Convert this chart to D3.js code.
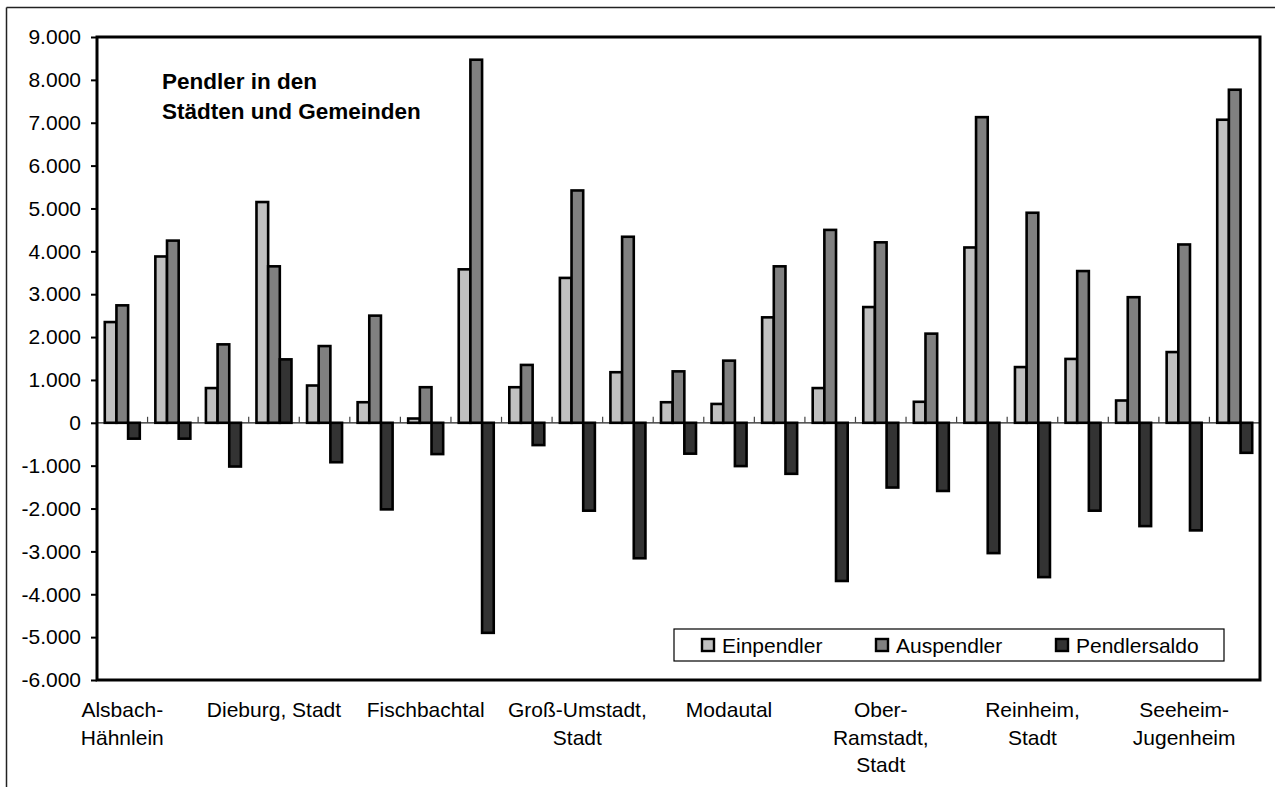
<!DOCTYPE html>
<html>
<head>
<meta charset="utf-8">
<script src="https://cdn.jsdelivr.net/npm/d3@7"></script>
<style>
  body { margin: 0; background: #fff; }
  svg { display: block; font-family: Arial, "Liberation Sans", sans-serif; }
</style>
</head>
<body>
<svg id="chart" width="1275" height="787"></svg>
<script>
// Pendler je Gemeinde (Landkreis Darmstadt-Dieburg)
const categories = [
  "Alsbach-\nHähnlein", "Babenhausen,\nStadt", "Bickenbach", "Dieburg, Stadt", "Eppertshausen",
  "Erzhausen", "Fischbachtal", "Griesheim,\nStadt", "Groß-Bieberau,\nStadt", "Groß-Umstadt,\nStadt",
  "Groß-Zimmern", "Messel", "Modautal", "Mühltal", "Münster",
  "Ober-\nRamstadt,\nStadt", "Otzberg", "Pfungstadt,\nStadt", "Reinheim,\nStadt", "Roßdorf",
  "Schaafheim", "Seeheim-\nJugenheim", "Weiterstadt,\nStadt"
];
const einpendler = [2350, 3880, 810, 5150, 870, 480, 100, 3580, 830, 3380, 1180, 480, 440, 2460, 810, 2700, 490, 4090, 1300, 1490, 520, 1650, 7070];
const auspendler = [2740, 4250, 1830, 3650, 1790, 2500, 830, 8470, 1350, 5420, 4340, 1200, 1450, 3650, 4500, 4210, 2080, 7130, 4900, 3540, 2930, 4160, 7770];
const pendlersaldo = [-370, -370, -1020, 1480, -920, -2020, -730, -4900, -520, -2050, -3160, -720, -1010, -1190, -3690, -1510, -1590, -3040, -3600, -2050, -2410, -2510, -700];
const seriesNames = ["Einpendler", "Auspendler", "Pendlersaldo"];
const yTicks = [-6000, -5000, -4000, -3000, -2000, -1000, 0, 1000, 2000, 3000, 4000, 5000, 6000, 7000, 8000, 9000];
const titleLines = ["Pendler in den", "Städten und Gemeinden"];

const colors = ["#c0c0c0", "#808080", "#333333"];
const seriesData = [einpendler, auspendler, pendlersaldo];

let svg = d3.select("#chart"),
    margin = {top: 37, right: 15, bottom: 107, left: 97},
    width = 1275 - margin.left - margin.right,
    height = 787 - margin.top - margin.bottom;

const de = d3.formatLocale({decimal: ",", thousands: ".", grouping: [3], currency: ["", " €"], minus: "-"});
const fmt = de.format(",");

// outer chart frame (only top and left edge visible)
svg.append("line").attr("x1", 6.5).attr("x2", 1275).attr("y1", 7.5).attr("y2", 7.5)
  .attr("stroke", "#222").attr("stroke-width", 1.5);
svg.append("line").attr("x1", 6.5).attr("x2", 6.5).attr("y1", 7.5).attr("y2", 787)
  .attr("stroke", "#222").attr("stroke-width", 1.5);

let g = svg.append("g").attr("transform", "translate(" + margin.left + "," + margin.top + ")");

let x0 = d3.scaleBand().domain(d3.range(categories.length)).range([0, width]).padding(0);
let x1 = d3.scaleBand().domain(seriesNames).range([0, x0.bandwidth()]).paddingInner(0).paddingOuter(0.667);
let y = d3.scaleLinear().domain([-6000, 9000]).range([height, 0]);

// y axis
let yAxis = d3.axisLeft(y).tickValues(yTicks).tickFormat(fmt).tickSize(6).tickPadding(10);
let ya = g.append("g").call(yAxis);
ya.select(".domain").remove();
ya.selectAll(".tick line").attr("stroke", "#000").attr("stroke-width", 2);
ya.selectAll("text").attr("font-size", 21).attr("fill", "#000")
  .attr("font-family", "Arial, 'Liberation Sans', sans-serif");

// zero line with category ticks
g.append("line").attr("x1", 0).attr("x2", width).attr("y1", y(0)).attr("y2", y(0))
  .attr("stroke", "#222").attr("stroke-width", 1.2);
g.selectAll(".ctick").data(d3.range(1, categories.length)).enter().append("line")
  .attr("class", "ctick")
  .attr("x1", d => x0(d)).attr("x2", d => x0(d))
  .attr("y1", y(0)).attr("y2", y(0) - 6)
  .attr("stroke", "#444").attr("stroke-width", 1.2);

// bars
seriesNames.forEach((s, si) => {
  g.selectAll(".bar" + si).data(seriesData[si]).enter().append("rect")
    .attr("class", "bar" + si)
    .attr("x", (d, i) => x0(i) + x1(s))
    .attr("width", x1.bandwidth())
    .attr("y", d => y(Math.max(0, d)))
    .attr("height", d => Math.abs(y(d) - y(0)))
    .attr("fill", colors[si])
    .attr("stroke", "#000")
    .attr("stroke-width", 2.6);
});

// plot border
g.append("rect").attr("x", 0).attr("y", 0).attr("width", width).attr("height", height)
  .attr("fill", "none").attr("stroke", "#000").attr("stroke-width", 3);

// category labels (every third)
let xl = g.append("g").attr("transform", "translate(0," + height + ")");
categories.forEach((c, i) => {
  if (i % 3 !== 0) return;
  let t = xl.append("text")
    .attr("x", x0(i) + x0.bandwidth() / 2)
    .attr("y", 37)
    .attr("text-anchor", "middle")
    .attr("font-size", 21)
    .attr("fill", "#000");
  c.split("\n").forEach((line, li) => {
    t.append("tspan").attr("x", x0(i) + x0.bandwidth() / 2).attr("dy", li === 0 ? 0 : 27.5).text(line);
  });
});

// title
let title = g.append("text").attr("x", 65).attr("y", 52)
  .attr("font-size", 22.5).attr("font-weight", "bold").attr("fill", "#000");
titleLines.forEach((l, i) => {
  title.append("tspan").attr("x", 65).attr("dy", i === 0 ? 0 : 30).text(l);
});

// legend
let lg = svg.append("g").attr("transform", "translate(674,629)");
lg.append("rect").attr("x", 0).attr("y", 0).attr("width", 550).attr("height", 32)
  .attr("fill", "#fff").attr("stroke", "#000").attr("stroke-width", 1.2);
const legendX = [28, 202, 382];
seriesNames.forEach((s, i) => {
  lg.append("rect").attr("x", legendX[i]).attr("y", 10).attr("width", 12).attr("height", 12)
    .attr("fill", colors[i]).attr("stroke", "#000").attr("stroke-width", 2.4);
  lg.append("text").attr("x", legendX[i] + 20).attr("y", 23.5)
    .attr("font-size", 21).attr("fill", "#000").text(s);
});
</script>
</body>
</html>
